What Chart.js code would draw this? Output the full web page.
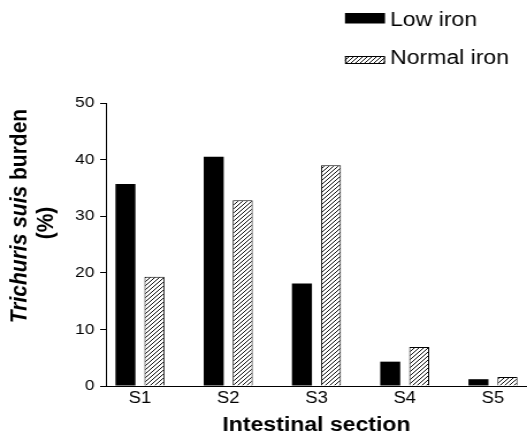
<!DOCTYPE html>
<html>
<head>
<meta charset="utf-8">
<script src="https://cdn.jsdelivr.net/npm/chart.js@4.4.1/dist/chart.umd.min.js"></script>
<style>
  html, body { margin: 0; padding: 0; background: #fff; overflow: hidden; }
  /* the reference is a little wider than tall, so the whole chart is stretched in x */
  #wrap { width: 458px; height: 445px; transform: scaleX(1.1507); transform-origin: 0 0; }
</style>
</head>
<body>
<div id="wrap"><canvas id="myChart" width="458" height="445"></canvas></div>
<script>
const sections = ["S1", "S2", "S3", "S4", "S5"];
const lowIron = [35.7, 40.5, 18.1, 4.3, 1.2];
const normalIron = [19.3, 32.8, 39.0, 6.9, 1.6];
const yTicks = [0, 10, 20, 30, 40, 50];
const seriesNames = ["Low iron", "Normal iron"];

const FONT = "'Liberation Sans', Arial, Helvetica, sans-serif";
const X_MIN = 0.614, X_MAX = 5.386;

// diagonal hatch for the normal iron bars
const makeHatch = () => {
    const p = document.createElement("canvas");
    p.width = 4;
    p.height = 4;
    const c = p.getContext("2d");
    c.fillStyle = "#fff";
    c.fillRect(0, 0, 4, 4);
    c.strokeStyle = "#111";
    c.lineWidth = 1;
    c.beginPath();
    c.moveTo(0, 4); c.lineTo(4, 0);
    c.moveTo(-1, 1); c.lineTo(1, -1);
    c.moveTo(3, 5); c.lineTo(5, 3);
    c.stroke();
    return c.createPattern(p, "repeat");
};
const ctx = document.getElementById("myChart").getContext("2d");
const hatch = makeHatch();

const yTitle = {
    id: "yTitle",
    afterDraw(chart) {
        const c = chart.ctx;
        c.save();
        c.fillStyle = "#000";
        c.textBaseline = "middle";
        c.translate(17.6, 216);
        c.rotate(-Math.PI / 2);
        const parts = [
            { t: "Trichuris suis", f: "italic bold 21px " + FONT },
            { t: " burden", f: "bold 21px " + FONT }
        ];
        let total = 0;
        parts.forEach(p => { c.font = p.f; p.w = c.measureText(p.t).width; total += p.w; });
        let x = -total / 2;
        c.textAlign = "left";
        parts.forEach(p => { c.font = p.f; c.fillText(p.t, x, 0); x += p.w; });
        c.restore();

        c.save();
        c.fillStyle = "#000";
        c.textBaseline = "middle";
        c.textAlign = "center";
        c.font = "bold 21px " + FONT;
        c.translate(40.4, 223);
        c.rotate(-Math.PI / 2);
        c.fillText("(%)", 0, 0);
        c.restore();
    }
};

const legendBoxes = {
    id: "legendBoxes",
    afterDraw(chart) {
        const c = chart.ctx;
        const rows = [
            { y: 13, h: 10.5, ty: 20 },
            { y: 56, h: 8, ty: 58.5 }
        ];
        c.save();
        chart.data.datasets.forEach((ds, i) => {
            const r = rows[i];
            c.fillStyle = ds.backgroundColor;
            c.fillRect(299.8, r.y, 34.8, r.h);
            if (ds.borderWidth) {
                c.strokeStyle = "#000";
                c.lineWidth = 1;
                c.strokeRect(299.8 + 0.5, r.y + 0.5, 34.8 - 1, r.h - 1);
            }
            c.fillStyle = "#000";
            c.font = "20px " + FONT;
            c.textBaseline = "middle";
            c.textAlign = "left";
            c.fillText(ds.label, 339, r.ty);
        });
        c.restore();
    }
};

const myChart = new Chart(ctx, {
    type: "bar",
    data: {
        datasets: [
            {
                label: seriesNames[0],
                data: lowIron.map((v, i) => ({ x: i + 1, y: v })),
                backgroundColor: "#000",
                borderWidth: 0,
                categoryPercentage: 0.657,
                barPercentage: 0.69
            },
            {
                label: seriesNames[1],
                data: normalIron.map((v, i) => ({ x: i + 1, y: v })),
                backgroundColor: hatch,
                borderColor: "#000",
                borderWidth: 1,
                categoryPercentage: 0.657,
                barPercentage: 0.69
            }
        ]
    },
    options: {
        responsive: false,
        animation: false,
        devicePixelRatio: 1,
        layout: { padding: { top: 103, right: 0, bottom: 0, left: 0 } },
        plugins: { legend: { display: false }, tooltip: { enabled: false } },
        scales: {
            x: {
                type: "linear",
                min: X_MIN,
                max: X_MAX,
                bounds: "data",
                offset: false,
                afterBuildTicks: (scale) => {
                    scale.ticks = sections.map((s, i) => ({ value: i + 1 }));
                    scale.min = X_MIN;
                    scale.max = X_MAX;
                },
                afterFit: (scale) => { scale.height = 59; },
                ticks: {
                    color: "#000",
                    font: { family: FONT, size: 16 },
                    padding: 3,
                    callback: (value) => sections[value - 1]
                },
                grid: { display: false, drawTicks: false },
                border: { display: true, color: "#000", width: 1 },
                title: {
                    display: true,
                    text: "Intestinal section",
                    color: "#000",
                    font: { family: FONT, size: 20, weight: "bold" },
                    padding: { top: 0, bottom: 8 }
                }
            },
            y: {
                min: 0,
                max: 50,
                afterBuildTicks: (scale) => { scale.ticks = yTicks.map(v => ({ value: v })); },
                afterFit: (scale) => { scale.width = 92; },
                ticks: {
                    color: "#000",
                    font: { family: FONT, size: 15 },
                    padding: 5
                },
                grid: { display: true, drawOnChartArea: false, drawTicks: true, tickLength: 5, color: "#000" },
                border: { display: true, color: "#000", width: 1 }
            }
        }
    },
    plugins: [yTitle, legendBoxes]
});
</script>
</body>
</html>
